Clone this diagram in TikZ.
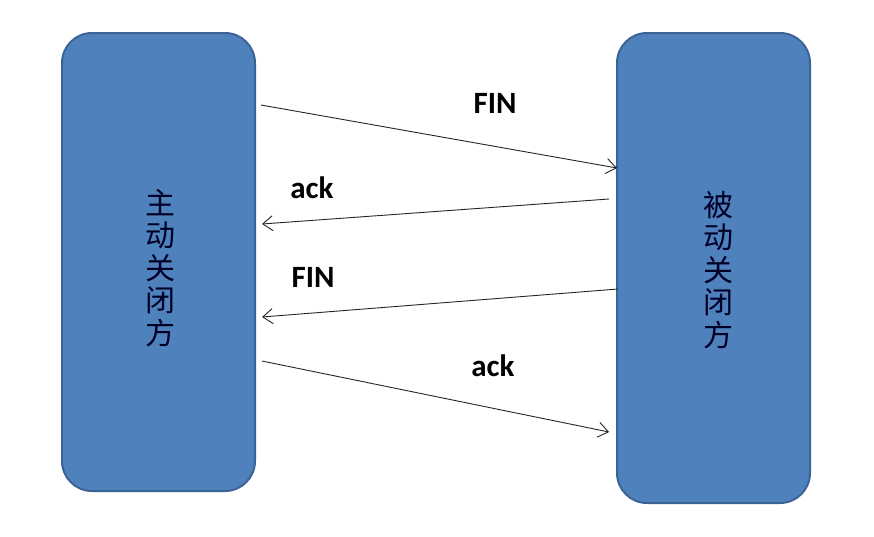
\documentclass[tikz,border=0pt]{standalone}
\usepackage{fontspec}
\setmainfont{Carlito}
\newfontfamily\cjk{Noto Sans CJK SC}
\usetikzlibrary{arrows.meta}
\definecolor{boxfill}{HTML}{4F81BD}
\definecolor{boxline}{HTML}{3A6396}
\tikzset{
  box/.style={draw=boxline, fill=boxfill, line width=2pt, rounded corners=30pt},
  msg/.style={draw=black!85, line width=0.9pt, -{Straight Barb[length=10pt,width=15pt,line width=0.9pt]}},
  lbl/.style={font=\fontsize{31}{31}\selectfont\bfseries, text=black, inner sep=0pt},
  vtext/.style={font=\cjk\fontsize{30}{32.6}\selectfont, align=center, inner sep=0pt, text=black!85!blue}
}
\begin{document}
\begin{tikzpicture}[x=1pt,y=-1pt]
\useasboundingbox (0,0) rectangle (874,536);
\fill[white] (0,0) rectangle (874,536);
\draw[box] (62,33) rectangle (255,491);
\draw[box] (617,33) rectangle (810,503);
\node[vtext] (lt) at (160,268) {主\\动\\关\\闭\\方};
\node[vtext] (rt) at (718,270) {被\\动\\关\\闭\\方};
\coordinate (a1s) at (261,105); \coordinate (a1e) at (617,168);
\coordinate (a2s) at (609,199); \coordinate (a2e) at (262,224);
\coordinate (a3s) at (618,289); \coordinate (a3e) at (262,317);
\coordinate (a4s) at (262,361); \coordinate (a4e) at (609,432);
\draw[msg] (a1s) -- (a1e);
\draw[msg] (a2s) -- (a2e);
\draw[msg] (a3s) -- (a3e);
\draw[msg] (a4s) -- (a4e);
\node[lbl] (l1) at (495,103) {FIN};
\node[lbl] (l2) at (312,188) {ack};
\node[lbl] (l3) at (313,277) {FIN};
\node[lbl] (l4) at (493,366) {ack};
\end{tikzpicture}
\end{document}
